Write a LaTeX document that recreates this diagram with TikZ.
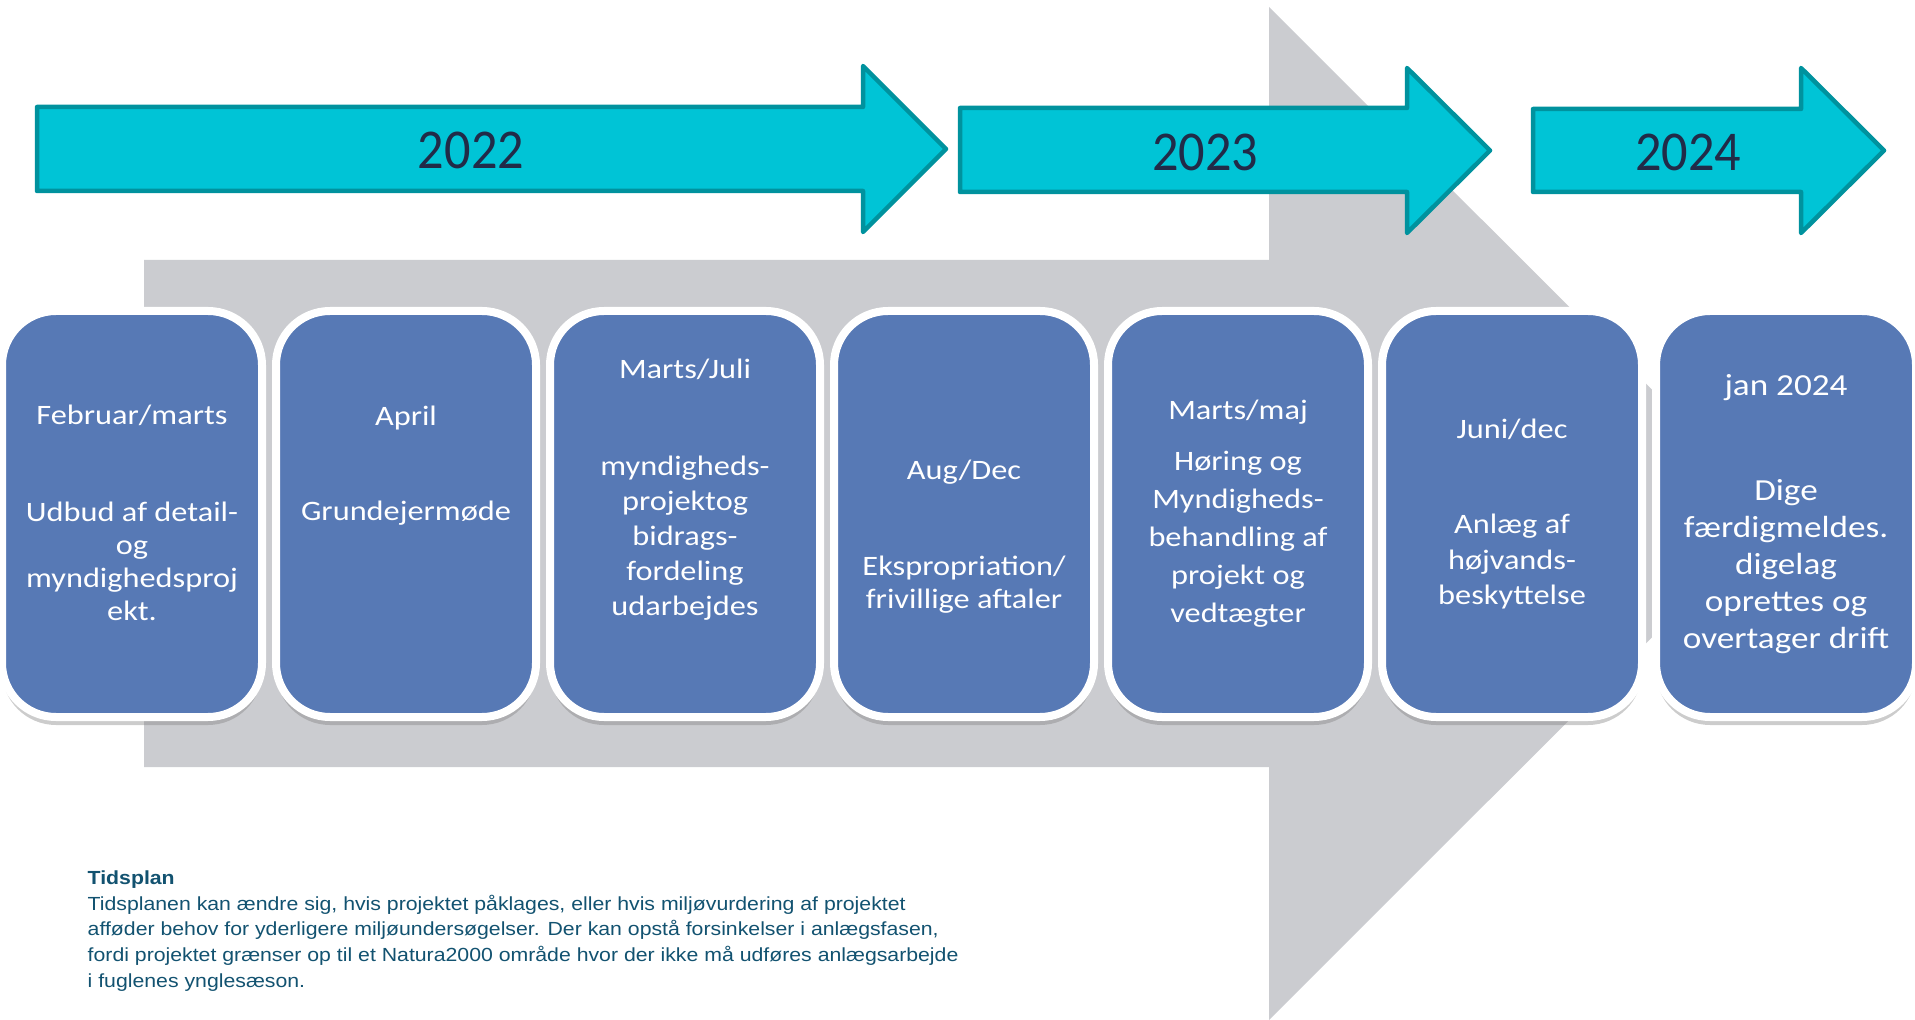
\documentclass[tikz,border=0pt]{standalone}
\usepackage{fontspec}
\setmainfont{Carlito}
\newfontfamily\yearfont[FakeStretch=0.93]{Carlito}
\newfontfamily\phasefont[FakeStretch=1.15]{Carlito}
\newfontfamily\arialfont[FakeStretch=1.12]{Liberation Sans}
\usetikzlibrary{positioning, calc, shadows}

\definecolor{yearcyan}{RGB}{0,196,214}
\definecolor{yearedge}{RGB}{0,146,158}
\definecolor{yearink}{RGB}{33,43,72}
\definecolor{phaseblue}{RGB}{87,121,181}
\definecolor{flowgray}{RGB}{203,204,208}
\definecolor{noteink}{RGB}{18,82,112}

\begin{document}
\begin{tikzpicture}[
  flowarrow/.style={fill=flowgray, draw=none},
  yeararrow/.style={fill=yearcyan, draw=yearedge, line width=0.45mm, line join=round},
  yearlabel/.style={text=yearink, font=\yearfont\fontsize{16}{19}\selectfont, inner sep=0pt},
  phasebox/.style={rectangle, rounded corners=5.4mm, fill=phaseblue, draw=white, line width=0.8mm,
    minimum width=26mm, minimum height=40.6mm, inner sep=0pt, outer sep=0pt,
    drop shadow={shadow xshift=0mm, shadow yshift=-0.8mm, opacity=0.4}},
  phasetext/.style={text=white, align=center, inner sep=0pt, font=\phasefont\fontsize{8}{#1}\selectfont},
  phasetext/.default=9.4,
  notetext/.style={text=noteink, align=left, inner sep=0pt, anchor=north west,
    font=\arialfont\fontsize{5.4}{7.3}\selectfont}
]
\useasboundingbox (0,0) rectangle (19.15,-10.20);

% grey arrow behind the phases
\fill[flowarrow] (1.44,-2.60) -- (12.69,-2.60) -- (12.69,-0.07) -- (17.76,-5.135)
  -- (12.69,-10.20) -- (12.69,-7.67) -- (1.44,-7.67) -- cycle;

% year arrows
\draw[yeararrow] (0.37,-1.07) -- (8.63,-1.07) -- (8.63,-0.66) -- (9.46,-1.49)
  -- (8.63,-2.32) -- (8.63,-1.91) -- (0.37,-1.91) -- cycle;
\draw[yeararrow] (9.60,-1.08) -- (14.07,-1.08) -- (14.07,-0.68) -- (14.90,-1.505)
  -- (14.07,-2.33) -- (14.07,-1.92) -- (9.60,-1.92) -- cycle;
\draw[yeararrow] (15.33,-1.09) -- (18.01,-1.09) -- (18.01,-0.68) -- (18.84,-1.505)
  -- (18.01,-2.33) -- (18.01,-1.92) -- (15.33,-1.92) -- cycle;
\node[yearlabel] (Y22) at (4.71,-1.50) {2022};
\node[yearlabel] (Y23) at (12.05,-1.52) {2023};
\node[yearlabel] (Y24) at (16.88,-1.52) {2024};

% phase boxes
\node[phasebox] (B1) at (1.32,-5.14) {};
\node[phasebox] (B2) [right=1.4mm of B1] {};
\node[phasebox, minimum width=27mm] (B3) [right=1.4mm of B2] {};
\node[phasebox] (B4) [right=1.4mm of B3] {};
\node[phasebox] (B5) [right=1.4mm of B4] {};
\node[phasebox] (B6) [right=1.4mm of B5] {};
\node[phasebox] (B7) [right=1.4mm of B6] {};

% phase texts
\node[phasetext] (T1) at ($(B1)+(0,0.01)$) {Februar/marts\\[6.4mm]Udbud af detail-\\og\\myndighedsproj\\ekt.};
\node[phasetext] (T2) at ($(B2)+(0,0.48)$) {April\\[6.2mm]Grundejermøde};
\node[phasetext=10] (T3) at ($(B3)+(0,0.24)$) {Marts/Juli\\[6.1mm]myndigheds-\\projektog\\bidrags-\\fordeling\\udarbejdes};
\node[phasetext] (T4) at ($(B4)+(0,-0.23)$) {Aug/Dec\\[6.3mm]Ekspropriation/\\frivillige aftaler};
\node[phasetext=10.8] (T5) at (B5) {Marts/maj\\[1.3mm]Høring og\\Myndigheds-\\behandling af\\projekt og\\vedtægter};
\node[phasetext=10] (T6) at (B6) {Juni/dec\\[6mm]Anlæg af\\højvands-\\beskyttelse};
\node[phasetext=10.5, font=\phasefont\fontsize{8.7}{10.5}\selectfont] (T7) at (B7) {jan 2024\\[6.8mm]Dige\\færdigmeldes.\\digelag\\oprettes og\\overtager drift};

% note below
\node[notetext] (Note) at (0.87,-8.70) {\textbf{Tidsplan}\\
Tidsplanen kan ændre sig, hvis projektet påklages, eller hvis miljøvurdering af projektet\\
afføder behov for yderligere miljøundersøgelser. Der kan opstå forsinkelser i anlægsfasen,\\
fordi projektet grænser op til et Natura2000 område hvor der ikke må udføres anlægsarbejde\\
i fuglenes ynglesæson.};
\end{tikzpicture}
\end{document}
